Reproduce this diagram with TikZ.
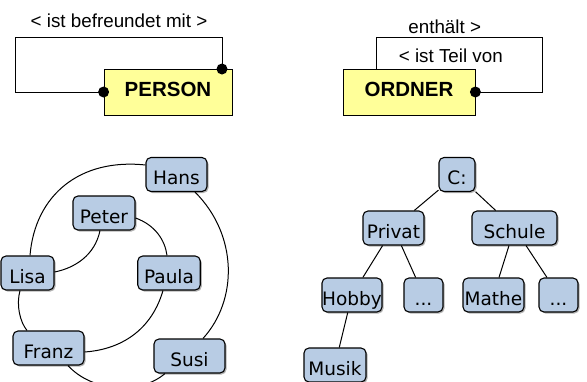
\documentclass[tikz,border=0pt]{standalone}
\usepackage{fontspec}
\setmainfont{Liberation Sans}
\newfontfamily\dejavu{DejaVu Sans}
\usetikzlibrary{shadows}
\definecolor{nodeblue}{HTML}{B8CCE4}
\definecolor{boxyellow}{HTML}{FFFF99}
\tikzset{
  bnode/.style={draw=black, line width=1.1pt, rounded corners=5pt, fill=nodeblue,
    inner sep=0pt, minimum height=34pt, text height=20pt, text depth=0pt,
    font=\dejavu\fontsize{18.5}{20}\selectfont,
    drop shadow={shadow xshift=1.5pt, shadow yshift=-1.5pt, opacity=0.3, fill=black}},
  ybox/.style={draw=black, line width=0.8pt, fill=boxyellow, inner sep=0pt,
    minimum height=46pt, font=\fontsize{20.5}{22}\selectfont\bfseries,
    drop shadow={shadow xshift=1.2pt, shadow yshift=-1.2pt, opacity=0.35, fill=black}},
  lbl/.style={inner sep=0pt, anchor=base, font=\fontsize{18.8}{20}\selectfont},
  conn/.style={draw=black, line width=1pt},
  edge/.style={draw=black, line width=1pt},
  dot/.style={fill=black, draw=none}
}
\begin{document}
\begin{tikzpicture}[x=1pt, y=-1pt]
\useasboundingbox (0,0) rectangle (587,381);
% ---------- top left: PERSON ----------
\node[ybox, minimum width=128pt] (person) at (168,92) {};
\node[inner sep=0pt, anchor=base, font=\fontsize{20.5}{22}\selectfont\bfseries] (persont) at (168,96.7) {PERSON};
\coordinate (pa) at (15,92);
\coordinate (pb) at (15,37);
\coordinate (pc) at (222,37);
\coordinate (pd) at (222,69);
\draw[conn] (person.west) -- (pa) -- (pb) -- (pc) -- (pd);
\fill[dot] (person.west) circle (5.5pt);
\fill[dot] (pd) circle (5.5pt);
\node[lbl] (l1) at (119,27.3) {< ist befreundet mit >};
% ---------- top right: ORDNER ----------
\node[ybox, minimum width=132pt] (ordner) at (409,92) {};
\node[inner sep=0pt, anchor=base, font=\fontsize{20.5}{22}\selectfont\bfseries] (ordnert) at (409,96.7) {ORDNER};
\coordinate (oa) at (376,69);
\coordinate (ob) at (376,37);
\coordinate (oc) at (542,37);
\coordinate (od) at (542,92);
\draw[conn] (oa) -- (ob) -- (oc) -- (od) -- (ordner.east);
\fill[dot] (ordner.east) circle (5.5pt);
\node[lbl] (l2) at (444.7,33.3) {enthält >};
\node[lbl] (l3) at (450.8,62.3) {< ist Teil von};
% ---------- graph ----------
\node[bnode, minimum width=61pt] (hans) at (176.5,174.5) {Hans};
\node[bnode, minimum width=62pt] (peter) at (104,213) {Peter};
\node[bnode, minimum width=53pt] (lisa) at (27.5,273) {Lisa};
\node[bnode, minimum width=62.5pt] (paula) at (169,273) {Paula};
\node[bnode, minimum width=71pt] (franz) at (48.5,348) {Franz};
\node[bnode, minimum width=71pt] (susi) at (189.5,356) {Susi};
\draw[edge] ([yshift=9.5pt]hans.west) .. controls (80,158) and (35,195) .. ([xshift=2.5pt]lisa.north);
\draw[edge] ([xshift=-4pt]peter.south) .. controls (95,255) and (75,268) .. ([yshift=1pt]lisa.east);
\draw[edge] ([yshift=-5pt]peter.east) .. controls (155,225) and (165,240) .. ([xshift=-2pt]paula.north);
\draw[edge] ([xshift=-7.5pt]lisa.south) .. controls (16,305) and (20,322) .. ([xshift=-21.5pt]franz.north);
\draw[edge] ([xshift=-6pt]paula.south) .. controls (150,335) and (115,350) .. ([yshift=-4pt]franz.east);
\draw[edge] ([xshift=18.5pt]hans.south) .. controls (238,235) and (238,300) .. ([xshift=13.5pt]susi.north);
\draw[edge] ([xshift=19.5pt]franz.south) .. controls (92,392) and (140,395) .. ([xshift=-24.5pt]susi.south);
% ---------- tree ----------
\node[bnode, minimum width=36pt] (c) at (457,174.5) {C:};
\node[bnode, minimum width=61pt] (privat) at (393.5,228) {Privat};
\node[bnode, minimum width=85pt] (schule) at (514.5,228) {Schule};
\node[bnode, minimum width=60pt] (hobby) at (352,295) {Hobby};
\node[bnode, minimum width=39pt] (dots1) at (423.5,295) {...};
\node[bnode, minimum width=61pt] (mathe) at (493.5,295) {Mathe};
\node[bnode, minimum width=39pt] (dots2) at (558.5,295) {...};
\node[bnode, minimum width=62pt] (musik) at (335,365) {Musik};
\draw[edge] (c) -- (privat);
\draw[edge] (c) -- (schule);
\draw[edge] (privat) -- (hobby);
\draw[edge] (privat) -- (dots1);
\draw[edge] (schule) -- (mathe);
\draw[edge] (schule) -- (dots2);
\draw[edge] (hobby) -- (musik);
\end{tikzpicture}
\end{document}
